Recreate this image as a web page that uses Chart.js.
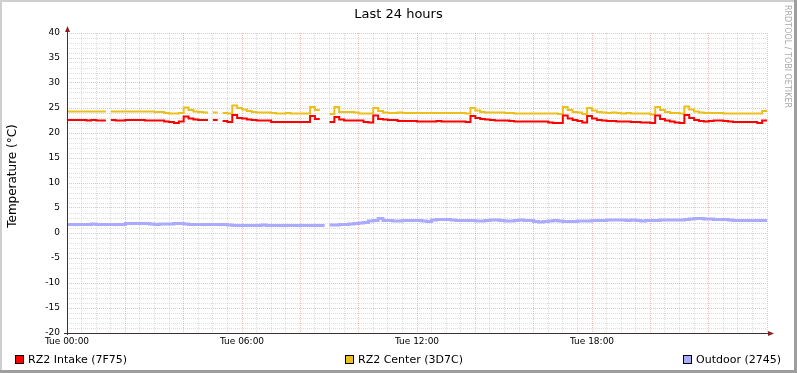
<!DOCTYPE html>
<html>
<head>
<meta charset="utf-8">
<title>Last 24 hours</title>
<script src="https://cdn.jsdelivr.net/npm/chart.js@4.4.1/dist/chart.umd.min.js"></script>
<style>
  html, body { margin: 0; padding: 0; background: #fff; }
  #wrap { width: 797px; height: 373px; }
</style>
</head>
<body>
<div id="wrap"><canvas id="grafico" width="797" height="373"></canvas></div>
<script>
// 10-minute samples from Tue 00:00 to 23:50, one row = 2 hours (null = no data)
const intake = [
  22.6, 22.6, 22.6, 22.6, 22.5, 22.6, 22.5, 22.5, null, 22.6, 22.5, 22.5,
  22.6, 22.6, 22.6, 22.6, 22.5, 22.5, 22.5, 22.5, 22.3, 22.2, 22.0, 22.3,
  23.3, 22.9, 22.7, 22.6, 22.6, null, 22.6, null, 22.4, 22.2, 23.6, 23.0,
  22.9, 22.7, 22.6, 22.5, 22.5, 22.5, 22.2, 22.2, 22.2, 22.2, 22.2, 22.2,
  22.2, 22.2, 23.4, 22.8, null, null, 22.2, 23.2, 22.7, 22.5, 22.5, 22.5,
  22.5, 22.2, 22.1, 23.5, 22.8, 22.7, 22.6, 22.6, 22.4, 22.4, 22.4, 22.4,
  22.3, 22.3, 22.3, 22.3, 22.4, 22.3, 22.3, 22.3, 22.3, 22.3, 22.2, 23.4,
  23.0, 22.8, 22.7, 22.6, 22.5, 22.5, 22.5, 22.4, 22.3, 22.3, 22.3, 22.3,
  22.3, 22.3, 22.3, 22.1, 22.0, 22.0, 23.5, 22.9, 22.6, 22.4, 22.1, 23.4,
  22.9, 22.6, 22.5, 22.4, 22.4, 22.3, 22.3, 22.3, 22.2, 22.2, 22.1, 22.1,
  22.0, 23.5, 22.8, 22.5, 22.3, 22.1, 22.0, 23.6, 23.0, 22.6, 22.4, 22.3,
  22.4, 22.5, 22.5, 22.4, 22.3, 22.2, 22.2, 22.2, 22.2, 22.2, 22.0, 22.5
];
const center = [
  24.3, 24.3, 24.3, 24.3, 24.3, 24.3, 24.3, 24.3, null, 24.3, 24.3, 24.3,
  24.3, 24.3, 24.3, 24.3, 24.3, 24.3, 24.2, 24.2, 24.0, 23.9, 23.9, 24.0,
  25.1, 24.6, 24.3, 24.2, 24.1, null, 24.1, null, 24.0, 23.9, 25.5, 25.0,
  24.7, 24.4, 24.2, 24.1, 24.1, 24.1, 24.0, 23.9, 23.9, 24.0, 23.9, 23.9,
  23.9, 23.9, 25.2, 24.6, null, null, 23.8, 25.2, 24.2, 24.2, 24.2, 24.1,
  23.9, 23.9, 23.9, 25.0, 24.4, 24.1, 24.0, 24.0, 24.1, 24.0, 24.0, 24.0,
  24.0, 24.0, 24.0, 24.0, 24.0, 24.0, 24.0, 24.0, 24.0, 24.0, 23.9, 25.0,
  24.5, 24.2, 24.1, 24.1, 24.1, 24.1, 24.0, 24.0, 23.9, 23.9, 23.9, 23.9,
  23.9, 23.9, 23.9, 23.9, 23.9, 23.8, 25.2, 24.6, 24.2, 24.1, 23.8, 25.0,
  24.5, 24.2, 24.1, 24.0, 24.1, 24.0, 23.9, 24.0, 23.9, 23.9, 23.9, 23.9,
  23.7, 25.2, 24.6, 24.2, 24.0, 24.0, 23.9, 25.3, 24.7, 24.3, 24.1, 24.0,
  24.0, 24.0, 24.0, 23.9, 23.9, 23.9, 23.9, 23.9, 23.9, 23.9, 23.9, 24.4
];
const outdoor = [
  1.7, 1.7, 1.7, 1.7, 1.7, 1.8, 1.7, 1.7, 1.7, 1.7, 1.7, 1.7,
  1.9, 1.9, 1.9, 1.9, 1.9, 1.8, 1.7, 1.8, 1.8, 1.8, 1.9, 1.9,
  1.8, 1.7, 1.7, 1.7, 1.7, 1.7, 1.7, 1.7, 1.7, 1.6, 1.5, 1.5,
  1.5, 1.5, 1.5, 1.5, 1.6, 1.5, 1.5, 1.5, 1.5, 1.5, 1.5, 1.5,
  1.5, 1.5, 1.5, 1.5, 1.5, null, 1.6, 1.6, 1.7, 1.7, 1.8, 1.9,
  2.0, 2.1, 2.4, 2.5, 2.9, 2.5, 2.5, 2.4, 2.4, 2.5, 2.5, 2.5,
  2.5, 2.4, 2.3, 2.6, 2.7, 2.7, 2.7, 2.6, 2.5, 2.5, 2.5, 2.5,
  2.4, 2.4, 2.5, 2.6, 2.6, 2.5, 2.4, 2.4, 2.5, 2.6, 2.5, 2.5,
  2.3, 2.2, 2.3, 2.4, 2.5, 2.4, 2.3, 2.3, 2.3, 2.4, 2.4, 2.4,
  2.5, 2.5, 2.5, 2.6, 2.6, 2.6, 2.6, 2.5, 2.6, 2.5, 2.4, 2.5,
  2.5, 2.5, 2.6, 2.6, 2.6, 2.6, 2.6, 2.7, 2.8, 2.9, 2.9, 2.8,
  2.8, 2.7, 2.7, 2.7, 2.6, 2.5, 2.5, 2.5, 2.5, 2.5, 2.5, 2.5
];

const seriesNames  = ["RZ2 Intake (7F75)", "RZ2 Center (3D7C)", "Outdoor (2745)"];
const seriesColors = ["#FF0000", "#EBC01C", "#AAAAFF"];
const seriesWidths = [2, 2, 3];
const timeTicks  = [0, 6, 12, 18];
const timeLabels = ["Tue 00:00", "Tue 06:00", "Tue 12:00", "Tue 18:00"];
const stepHours = 1 / 6;

const FONT = "'DejaVu Sans', 'Liberation Sans', sans-serif";
const gridGrey = "rgba(150,150,150,0.32)";
const gridRed = "rgba(220,100,100,0.42)";

// each sample holds its value for the whole 10 minutes (rrd style steps)
function toSteps(values) {
  const pts = [];
  values.forEach((v, i) => {
    const t0 = i * stepHours;
    if (v === null) { pts.push({ x: t0, y: null }); return; }
    pts.push({ x: t0, y: v }, { x: t0 + stepHours, y: v });
  });
  return pts;
}

const rrdDeco = {
  id: "rrdDeco",
  beforeDraw(chart) {
    const c = chart.ctx;
    c.save();
    c.fillStyle = "#ffffff";
    c.fillRect(0, 0, chart.width, chart.height);
    c.restore();
  },
  afterDraw(chart) {
    const c = chart.ctx;
    const a = chart.chartArea;
    c.save();

    // axes + arrows
    c.strokeStyle = "#3c3030";
    c.lineWidth = 1;
    c.beginPath();
    c.moveTo(a.left + 0.5, a.bottom + 2);
    c.lineTo(a.left + 0.5, a.top - 1);
    c.moveTo(a.left - 3, a.bottom + 0.5);
    c.lineTo(a.right + 1, a.bottom + 0.5);
    c.stroke();
    c.fillStyle = "#8a1f1f";
    c.beginPath();
    c.moveTo(a.left - 2, a.top - 1);
    c.lineTo(a.left + 3, a.top - 1);
    c.lineTo(a.left + 0.5, a.top - 7);
    c.closePath();
    c.fill();
    c.beginPath();
    c.moveTo(a.right + 1, a.bottom - 2);
    c.lineTo(a.right + 1, a.bottom + 3);
    c.lineTo(a.right + 7, a.bottom + 0.5);
    c.closePath();
    c.fill();

    // title
    c.fillStyle = "#000";
    c.font = "13px " + FONT;
    c.textAlign = "center";
    c.textBaseline = "alphabetic";
    c.fillText("Last 24 hours", chart.width / 2, 18);

    // vertical axis label
    c.save();
    c.translate(16, 176);
    c.rotate(-Math.PI / 2);
    c.font = "12px " + FONT;
    c.fillText("Temperature (°C)", 0, 0);
    c.restore();

    // legend
    const legendX = [15, 345, 683];
    c.font = "11px " + FONT;
    c.textAlign = "left";
    seriesNames.forEach((name, i) => {
      c.fillStyle = seriesColors[i];
      c.fillRect(legendX[i], 355, 9, 9);
      c.strokeStyle = "#000";
      c.strokeRect(legendX[i] + 0.5, 355.5, 8, 8);
      c.fillStyle = "#000";
      c.fillText(name, legendX[i] + 13, 363);
    });

    // watermark
    c.save();
    c.translate(787, 5);
    c.rotate(Math.PI / 2);
    c.font = "8px " + FONT;
    c.fillStyle = "#aaaaaa";
    c.textBaseline = "middle";
    c.fillText("RRDTOOL / TOBI OETIKER", 0, 0);
    c.restore();

    // 3d frame
    c.fillStyle = "#cfcfcf";
    c.fillRect(0, 0, chart.width, 2);
    c.fillRect(0, 0, 2, chart.height);
    c.fillStyle = "#9e9e9e";
    c.fillRect(chart.width - 3, 0, 3, chart.height);
    c.fillRect(0, chart.height - 3, chart.width, 3);
    c.restore();
  }
};

const ctx = document.getElementById("grafico").getContext("2d");
new Chart(ctx, {
  type: "line",
  data: {
    datasets: [intake, center, outdoor].map((vals, i) => ({
      label: seriesNames[i],
      data: toSteps(vals),
      borderColor: seriesColors[i],
      borderWidth: seriesWidths[i],
      pointRadius: 0,
      tension: 0,
      spanGaps: false,
      fill: false
    }))
  },
  options: {
    responsive: false,
    animation: false,
    devicePixelRatio: 1,
    layout: { padding: { top: 33, right: 30, bottom: 0, left: 0 } },
    plugins: {
      legend: { display: false },
      title: { display: false },
      tooltip: { enabled: false }
    },
    scales: {
      x: {
        type: "linear",
        min: 0,
        max: 24,
        afterFit(scale) { scale.height = 40; },
        ticks: {
          stepSize: 0.5,
          maxTicksLimit: 1000,
          autoSkip: false,
          maxRotation: 0,
          minRotation: 0,
          padding: 3,
          color: "#000",
          font: { family: FONT, size: 9 },
          callback(v) {
            const k = timeTicks.indexOf(v);
            return k >= 0 ? timeLabels[k] : "";
          }
        },
        grid: {
          drawTicks: false,
          lineWidth: 1,
          color: (c) => (c.tick.value % 2 === 0 ? gridRed : gridGrey)
        },
        border: { display: false, dash: [1, 1] }
      },
      y: {
        min: -20,
        max: 40,
        afterFit(scale) { scale.width = 67; },
        ticks: {
          stepSize: 1,
          maxTicksLimit: 1000,
          autoSkip: false,
          padding: 7,
          color: "#000",
          font: { family: FONT, size: 9 },
          callback: (v) => (v % 5 === 0 ? String(v) : "")
        },
        grid: {
          drawTicks: false,
          lineWidth: 1,
          color: (c) => (c.tick.value % 5 === 0 ? gridRed : gridGrey)
        },
        border: { display: false, dash: [1, 1] }
      }
    }
  },
  plugins: [rrdDeco]
});
</script>
</body>
</html>
